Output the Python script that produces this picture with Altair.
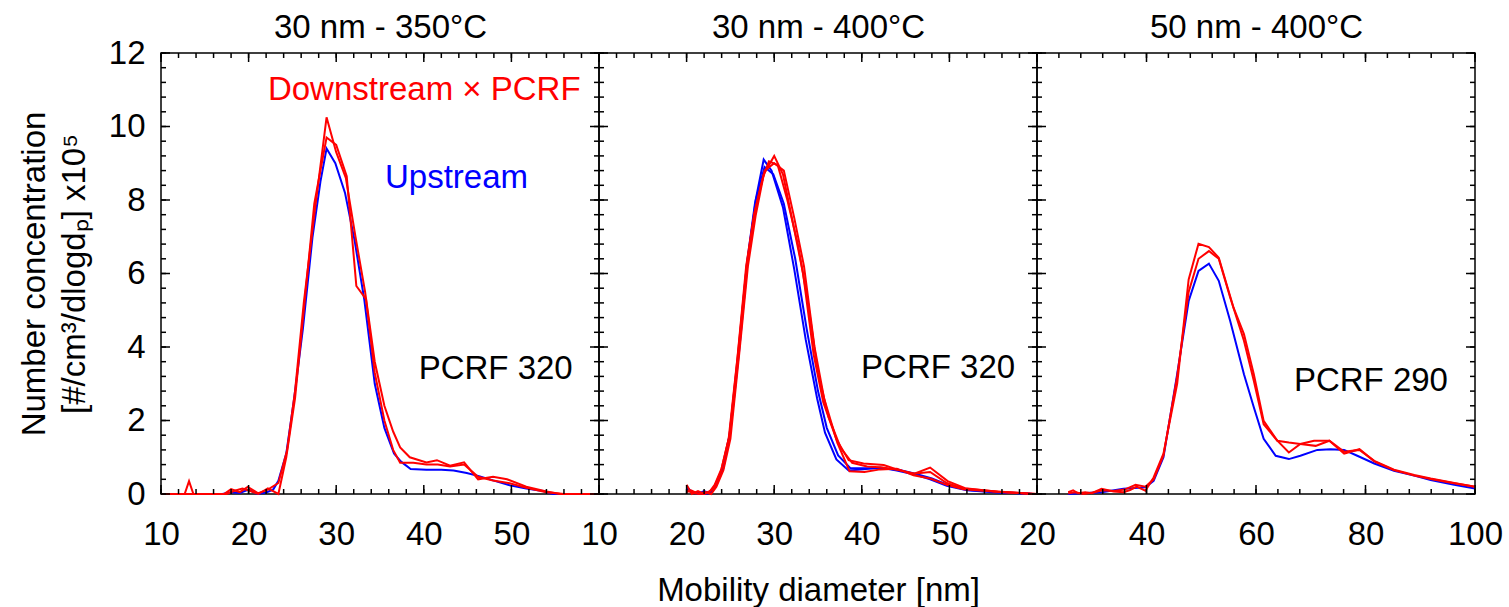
import altair as alt
import pandas as pd

# ---------------- data ----------------
# Panel 1: 30 nm - 350°C
p1_up_x = [10, 17.0, 18.0, 19.0, 20.0, 21.0, 22.0, 22.8, 23.4, 24.3, 25.2, 26.2, 27.3, 28.2, 28.9, 29.9, 31.0, 32.1,
           33.2, 34.4, 35.5, 36.6, 37.4, 38.5, 40.3, 42.0, 43.4, 44.9, 46.4, 47.9, 49.8, 51.7, 53.6, 54.7, 60]
p1_up_y = [0, 0, 0.05, 0.03, 0.12, 0.0, 0.04, 0.12, 0.36, 1.1, 2.6, 4.5, 7.0, 8.5, 9.4, 9.0, 8.2, 6.9,
           5.3, 3.0, 1.8, 1.1, 0.88, 0.68, 0.66, 0.66, 0.64, 0.57, 0.48, 0.37, 0.24, 0.15, 0.08, 0.0, 0]
p1_dnA_x = [10, 12.7, 13.2, 13.7, 17.2, 18.0, 19.0, 19.9, 21.1, 22.2, 23.4, 24.4, 25.3, 26.3, 27.5, 28.9, 30.0, 31.1,
            32.2, 33.3, 34.4, 35.5, 36.5, 37.3, 38.4, 40.3, 41.5, 43.0, 44.6, 46.2, 47.9, 49.5, 51.7, 54.0, 55.6, 60]
p1_dnA_y = [0, 0, 0.35, 0, 0, 0.13, 0.05, 0.19, 0.02, 0.12, 0.3, 1.2, 2.8, 5.2, 7.6, 10.25, 9.3, 8.6,
            7.0, 5.5, 3.6, 2.4, 1.7, 1.27, 1.0, 0.86, 0.92, 0.77, 0.86, 0.4, 0.47, 0.4, 0.2, 0.07, 0.0, 0]
p1_dnB_x = [10, 17.5, 18.3, 19.3, 20.2, 21.1, 22.2, 23.4, 24.3, 25.3, 26.3, 27.5, 28.9, 30.0, 31.2, 32.3, 33.4,
            34.4, 35.5, 36.5, 37.3, 38.8, 40.3, 41.6, 43.0, 44.6, 46.2, 47.9, 49.8, 51.7, 54.0, 56.0, 60]
p1_dnB_y = [0, 0, 0.08, 0.15, 0.08, 0.0, 0.15, 0.0, 1.0, 2.6, 5.0, 7.9, 9.7, 9.5, 8.65, 5.66, 5.3,
            3.3, 2.0, 1.2, 0.85, 0.85, 0.8, 0.8, 0.75, 0.8, 0.47, 0.37, 0.29, 0.17, 0.05, 0.0, 0]

# Panel 2: 30 nm - 400°C
p2_upA_x = [20.0, 20.6, 21.3, 22.0, 22.6, 23.2, 24.0, 24.9, 25.9, 26.9, 27.8, 28.8, 29.7, 31.0, 32.3, 33.6, 34.9,
            35.8, 37.1, 38.5, 40.2, 42.1, 44.0, 45.9, 47.8, 49.7, 52.0, 55.4, 59.2]
p2_upA_y = [0.2, 0.05, 0.0, 0.08, 0.02, 0.2, 0.6, 1.6, 3.8, 6.3, 7.9, 9.1, 8.8, 7.8, 6.1, 4.2, 2.6,
            1.67, 0.94, 0.64, 0.67, 0.72, 0.64, 0.54, 0.4, 0.22, 0.1, 0.04, 0.01]
p2_upB_x = [20.0, 20.7, 21.4, 22.1, 22.8, 23.4, 24.2, 25.0, 26.0, 27.0, 27.9, 28.9, 29.9, 31.1, 32.4, 33.7, 35.0,
            36.0, 37.3, 38.7, 40.4, 42.3, 44.2, 46.1, 48.0, 49.9, 52.2, 55.6, 59.4]
p2_upB_y = [0.15, 0.02, 0.05, 0.0, 0.04, 0.25, 0.7, 1.7, 3.9, 6.4, 8.0, 8.9, 8.7, 7.9, 6.4, 4.5, 2.8,
            1.8, 1.05, 0.7, 0.7, 0.7, 0.66, 0.55, 0.42, 0.24, 0.11, 0.05, 0.01]
p2_dnA_x = [20.0, 20.6, 21.3, 22.0, 22.6, 23.2, 24.0, 24.9, 25.9, 26.9, 27.8, 28.8, 30.0, 31.0, 32.2, 33.3, 34.5,
            35.6, 37.1, 38.5, 40.2, 42.5, 44.0, 45.9, 47.8, 49.7, 51.6, 55.4, 59.2, 60]
p2_dnA_y = [0.25, 0.0, 0.08, 0.0, 0.05, 0.25, 0.7, 1.6, 3.9, 6.3, 7.7, 8.7, 9.2, 8.7, 7.3, 6.0, 3.8,
            2.5, 1.49, 0.92, 0.83, 0.79, 0.67, 0.55, 0.6, 0.3, 0.15, 0.07, 0.01, 0]
p2_dnB_x = [20.0, 20.7, 21.4, 22.1, 22.8, 23.4, 24.2, 25.0, 26.0, 27.0, 27.9, 28.9, 30.0, 31.1, 32.3, 33.4, 34.6,
            35.7, 37.2, 38.6, 40.3, 42.1, 44.0, 45.9, 47.8, 49.7, 51.6, 55.4, 59.2, 60]
p2_dnB_y = [0.1, 0.03, 0.0, 0.05, 0.0, 0.2, 0.65, 1.5, 3.8, 6.2, 7.6, 8.8, 9.0, 8.8, 7.5, 6.2, 4.0,
            2.6, 1.4, 0.62, 0.6, 0.67, 0.69, 0.51, 0.42, 0.25, 0.13, 0.06, 0.01, 0]
p2_dnC_x = [20.0, 20.5, 21.2, 21.9, 22.5, 23.1, 23.9, 24.8, 25.8, 26.8, 27.7, 28.7, 29.4, 30.4, 31.5, 32.7, 33.8,
            35.0, 36.2, 37.6, 38.9, 40.6, 42.4, 44.2, 46.0, 47.8, 49.8, 51.8, 55.5, 59.3, 60]
p2_dnC_y = [0.05, 0.1, 0.02, 0.0, 0.06, 0.15, 0.6, 1.5, 3.7, 6.2, 7.6, 8.6, 9.05, 8.95, 8.0, 6.8, 5.3,
            3.3, 2.1, 1.25, 0.85, 0.75, 0.72, 0.65, 0.55, 0.72, 0.35, 0.16, 0.06, 0.01, 0]

# Panel 3: 50 nm - 400°C
p3_up_x = [25.7, 28.0, 31.8, 35.8, 39.8, 41.3, 43.1, 45.6, 47.7, 49.5, 51.4, 53.2, 55.3, 57.8, 59.6, 61.4, 63.6,
           66.0, 68.1, 71.2, 73.6, 76.1, 78.5, 81.6, 85.2, 88.9, 91.9, 96.2, 100]
p3_up_y = [0.0, 0.02, 0.05, 0.14, 0.18, 0.36, 1.0, 3.26, 5.25, 6.07, 6.27, 5.8, 4.7, 3.26, 2.36, 1.5, 1.04,
           0.95, 1.04, 1.2, 1.22, 1.2, 1.04, 0.83, 0.63, 0.5, 0.38, 0.25, 0.15]
p3_dnA_x = [25.7, 26.6, 27.5, 28.8, 30.0, 31.8, 34.0, 35.8, 37.0, 38.2, 39.8, 41.3, 43.1, 45.6, 47.7, 49.5, 51.4,
            53.2, 55.9, 57.8, 59.6, 61.4, 63.9, 66.0, 68.1, 70.6, 73.4, 76.1, 78.9, 81.6, 85.2, 88.9, 91.9, 96.2, 100]
p3_dnA_y = [0.05, 0.1, 0.02, 0.05, 0.02, 0.14, 0.07, 0.05, 0.11, 0.2, 0.09, 0.45, 1.1, 3.0, 5.84, 6.81, 6.72,
            6.43, 5.07, 4.35, 3.26, 1.99, 1.45, 1.13, 1.36, 1.45, 1.45, 1.1, 1.22, 0.89, 0.65, 0.5, 0.41, 0.29, 0.2]
p3_dnB_x = [25.7, 27.0, 28.5, 30.2, 32.0, 34.0, 36.0, 38.0, 39.8, 41.3, 43.1, 45.6, 47.7, 49.5, 51.4, 53.2, 55.3,
            57.8, 59.6, 61.4, 63.9, 66.0, 68.1, 70.9, 73.4, 76.1, 78.9, 81.6, 85.2, 88.9, 91.9, 96.2, 100]
p3_dnB_y = [0.02, 0.05, 0.0, 0.04, 0.1, 0.08, 0.12, 0.25, 0.2, 0.4, 1.05, 3.2, 5.5, 6.4, 6.61, 6.4, 5.34,
            4.17, 3.08, 1.9, 1.45, 1.4, 1.36, 1.31, 1.45, 1.15, 1.2, 0.9, 0.66, 0.52, 0.42, 0.3, 0.2]

panel_titles = ["30 nm - 350°C", "30 nm - 400°C", "50 nm - 400°C"]
x_domains = [[10, 60], [10, 60], [20, 100]]
x_label_values = [[10, 20, 30, 40, 50], [10, 20, 30, 40, 50], [20, 40, 60, 80, 100]]
x_major_values = [[10, 20, 30, 40, 50, 60], [10, 20, 30, 40, 50, 60], [20, 40, 60, 80, 100]]
x_minor_values = [[10 + 2 * i for i in range(26)], [10 + 2 * i for i in range(26)], [20 + 4 * i for i in range(21)]]
y_major_values = [0, 2, 4, 6, 8, 10, 12]
y_minor_values = [round(0.4 * i, 1) for i in range(31)]
note_labels = [["Downstream × PCRF", "Upstream", "PCRF 320"], ["PCRF 320"], ["PCRF 290"]]
note_x = [[57.9, 51.9, 57.0], [57.5], [95.06]]
note_y = [[11.0, 8.59, 3.39], [3.43], [3.07]]
note_colors = [["#ff0000", "#0000ff", "black"], ["black"], ["black"]]
y_title = ["Number concentration", "[#/cm³/dlogdₚ] x10⁵"]
x_title = "Mobility diameter [nm]"

# ---------------- helpers ----------------
W, H = 438, 441
FONT = "Liberation Sans"
FS = 33
RED = "#ff0000"
BLUE = "#0000ff"
MAJOR, MINOR = 9, 5


def frame(pairs, kind):
    out = []
    for i, (xs, ys) in enumerate(pairs):
        out.append(pd.DataFrame({"d": xs, "n": ys, "sid": f"{kind}{i}"}))
    return pd.concat(out, ignore_index=True)


def panel(idx, ups, downs, show_y, show_xtitle):
    xs = alt.Scale(domain=x_domains[idx], nice=False, zero=False)
    ys = alt.Scale(domain=[0, 12], nice=False, zero=False)
    up_df = frame(ups, "u")
    dn_df = frame(downs, "r")

    xaxis = alt.Axis(values=x_label_values[idx], ticks=False, tickSize=0, domain=False, grid=False,
                     labelFlush=False, labelOverlap=False, labelFontSize=FS, labelFont=FONT,
                     labelColor="black", labelPadding=24,
                     title=x_title if show_xtitle else None, titleFontSize=FS, titleFont=FONT,
                     titleFontWeight="normal", titleColor="black", titlePadding=23)
    if show_y:
        yaxis = alt.Axis(values=y_major_values, ticks=False, tickSize=0, domain=False, grid=False,
                         labelFlush=False, labelOverlap=False, labelFontSize=FS, labelFont=FONT,
                         labelColor="black", labelPadding=16,
                         title=y_title, titleFontSize=FS, titleFont=FONT, titleFontWeight="normal",
                         titleColor="black", titlePadding=17, titleLineHeight=40)
    else:
        yaxis = None

    blue = alt.Chart(up_df).mark_line(color=BLUE, strokeWidth=2).encode(
        x=alt.X("d:Q", scale=xs, axis=xaxis),
        y=alt.Y("n:Q", scale=ys, axis=yaxis),
        detail="sid:N",
    )
    red = alt.Chart(dn_df).mark_line(color=RED, strokeWidth=2).encode(
        x=alt.X("d:Q", scale=xs, axis=None),
        y=alt.Y("n:Q", scale=ys, axis=None),
        detail="sid:N",
    )
    note_df = pd.DataFrame({"d": note_x[idx], "n": note_y[idx], "label": note_labels[idx],
                            "col": note_colors[idx]})
    title_axis = alt.Axis(orient="top", labels=False, ticks=False, domain=False, grid=False,
                          title=panel_titles[idx], titleFontSize=FS, titleFont=FONT,
                          titleFontWeight="normal", titleColor="black", titlePadding=9)
    text = alt.Chart(note_df).mark_text(fontSize=FS, font=FONT, baseline="middle", align="right").encode(
        x=alt.X("d:Q", scale=xs, axis=title_axis),
        y=alt.Y("n:Q", scale=ys, axis=None),
        text="label:N",
        color=alt.Color("col:N", scale=None),
    )

    # inward tick marks on all four sides (positions through the scales)
    def xticks(vals, edge, length):
        return alt.Chart(pd.DataFrame({"v": vals})).mark_rule(color="black", strokeWidth=1.5).encode(
            x=alt.X("v:Q", scale=xs, axis=None),
            y=alt.value(edge),
            y2=alt.value(edge + length if edge == 0 else edge - length),
        )

    def yticks(vals, edge, length):
        return alt.Chart(pd.DataFrame({"v": vals})).mark_rule(color="black", strokeWidth=1.5).encode(
            y=alt.Y("v:Q", scale=ys, axis=None),
            x=alt.value(edge),
            x2=alt.value(edge + length if edge == 0 else edge - length),
        )

    layers = [
        blue, red, text,
        xticks(x_major_values[idx], H, MAJOR), xticks(x_minor_values[idx], H, MINOR),
        xticks(x_major_values[idx], 0, MAJOR), xticks(x_minor_values[idx], 0, MINOR),
        yticks(y_major_values, 0, MAJOR), yticks(y_minor_values, 0, MINOR),
        yticks(y_major_values, W, MAJOR), yticks(y_minor_values, W, MINOR),
    ]
    return alt.layer(*layers).resolve_axis(x="independent", y="independent").properties(width=W, height=H)


c1 = panel(0, [(p1_up_x, p1_up_y)], [(p1_dnA_x, p1_dnA_y), (p1_dnB_x, p1_dnB_y)], True, False)
c2 = panel(1, [(p2_upA_x, p2_upA_y), (p2_upB_x, p2_upB_y)],
           [(p2_dnA_x, p2_dnA_y), (p2_dnB_x, p2_dnB_y), (p2_dnC_x, p2_dnC_y)], False, True)
c3 = panel(2, [(p3_up_x, p3_up_y)], [(p3_dnA_x, p3_dnA_y), (p3_dnB_x, p3_dnB_y)], False, False)

chart = alt.hconcat(c1, c2, c3, spacing=0, bounds="flush").properties(
    padding={"left": 17, "top": 10, "right": 5, "bottom": 0},
    background="white",
).configure_view(stroke="black", strokeWidth=1.5)

chart.save("out.html", embed_options={"renderer": "svg", "actions": False})
